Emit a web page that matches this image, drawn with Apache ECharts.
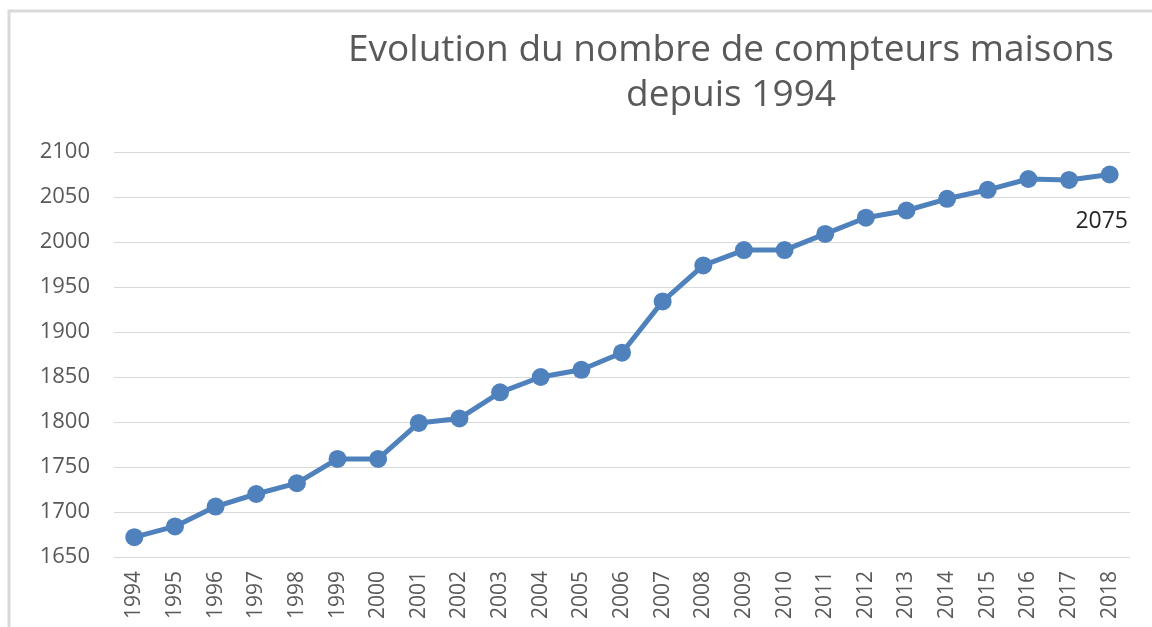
<!DOCTYPE html>
<html>
<head>
<meta charset="utf-8">
<script src="https://cdn.jsdelivr.net/npm/echarts@6/dist/echarts.min.js"></script>
<style>
  html, body { margin: 0; padding: 0; background: #fff; }
  #main { width: 1152px; height: 627px; }
</style>
</head>
<body>
<div id="main"></div>
<script>
// données
var years = ['1994','1995','1996','1997','1998','1999','2000','2001','2002','2003','2004','2005','2006',
             '2007','2008','2009','2010','2011','2012','2013','2014','2015','2016','2017','2018'];
var compteurs = [1672,1684,1706,1720,1732,1759,1759,1799,1804,1833,1850,1858,1877,
                 1934,1974,1991,1991,2009,2027,2035,2048,2058,2070,2069,2075];
var titre = 'Evolution du nombre de compteurs maisons\ndepuis 1994';

var font = '"Open Sans", "DejaVu Sans", sans-serif';

// seule la dernière valeur porte une étiquette
var points = compteurs.map(function (v, i) {
    if (i === compteurs.length - 1) {
        return {
            value: v,
            label: {
                show: true,
                position: 'inside',
                offset: [-8, 47],
                color: '#262626',
                fontSize: 23,
                fontFamily: font
            }
        };
    }
    return v;
});

var myChart = echarts.init(document.getElementById('main'));

myChart.setOption({
    animation: false,
    backgroundColor: '#fff',
    graphic: [{
        type: 'rect',
        shape: { x: 9, y: 11, width: 1160, height: 640 },
        style: { fill: 'none', stroke: '#d9d9d9', lineWidth: 3 },
        silent: true
    }],
    title: {
        text: titre,
        left: 726,
        top: 23,
        textAlign: 'center',
        textStyle: {
            color: '#595959',
            fontSize: 37,
            fontWeight: 'normal',
            fontFamily: font,
            lineHeight: 45
        }
    },
    grid: {
        left: 114,
        right: 22,
        top: 152,
        bottom: 70,
        containLabel: false
    },
    xAxis: {
        type: 'category',
        data: years,
        boundaryGap: true,
        axisLine: { show: false },
        axisTick: { show: false },
        axisLabel: {
            rotate: 90,
            margin: 14,
            color: '#595959',
            fontSize: 21,
            fontFamily: font
        }
    },
    yAxis: {
        type: 'value',
        min: 1650,
        max: 2100,
        interval: 50,
        axisLine: { show: false },
        axisTick: { show: false },
        axisLabel: {
            margin: 24,
            color: '#595959',
            fontSize: 22,
            fontFamily: font,
            formatter: function (v) { return String(v); }
        },
        splitLine: { lineStyle: { color: '#d9d9d9', width: 1 } }
    },
    series: [{
        type: 'line',
        data: points,
        symbol: 'circle',
        symbolSize: 18,
        lineStyle: { color: '#4f81bd', width: 5 },
        itemStyle: { color: '#4f81bd' }
    }]
});
</script>
</body>
</html>
